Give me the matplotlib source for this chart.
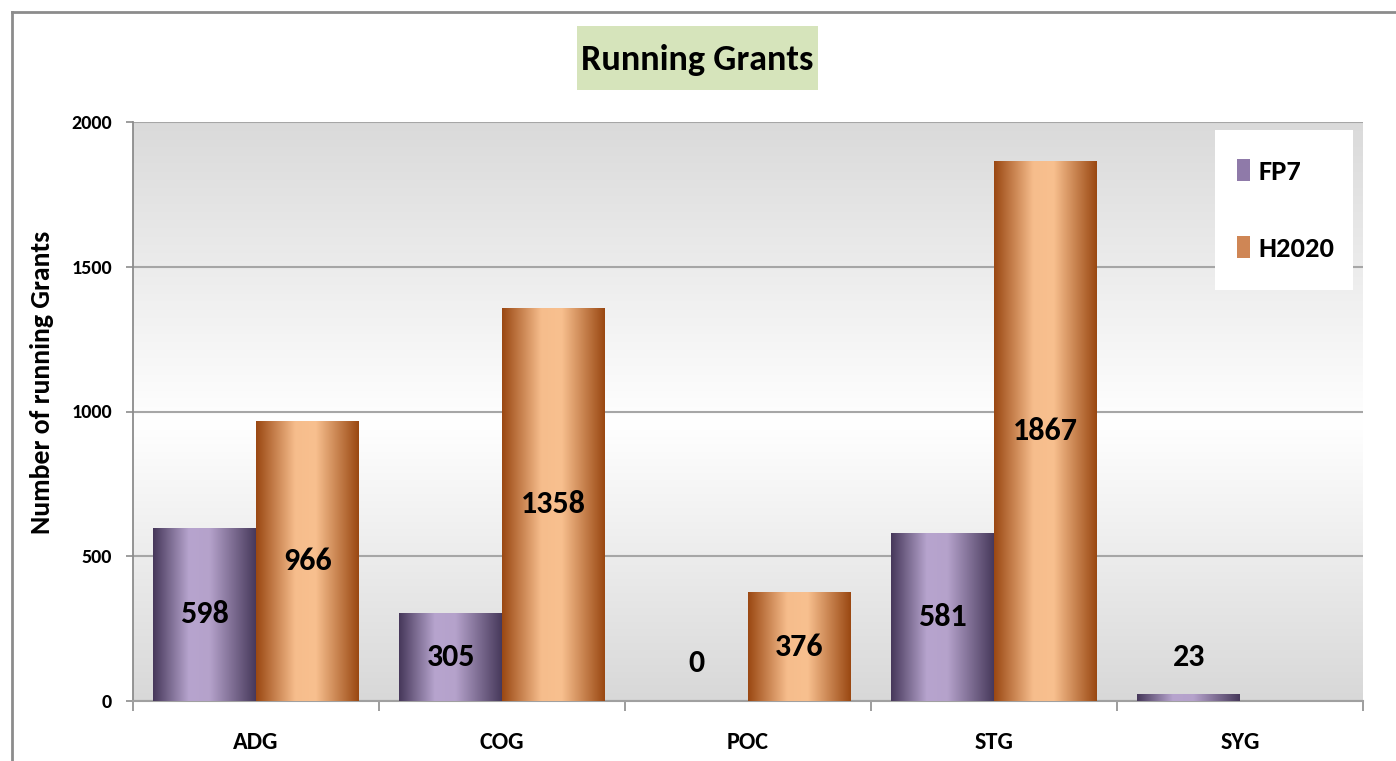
import numpy as np
import matplotlib
matplotlib.use("Agg")
import matplotlib.pyplot as plt
from matplotlib.colors import LinearSegmentedColormap
from matplotlib.patches import Rectangle, Patch
from matplotlib.lines import Line2D

categories = ["ADG", "COG", "POC", "STG", "SYG"]
fp7 = [598, 305, 0, 581, 23]
h2020 = [966, 1358, 376, 1867, np.nan]
series_names = ["FP7", "H2020"]
y_ticks = [0, 500, 1000, 1500, 2000]

FONT = ["Carlito", "DejaVu Sans"]
plt.rcParams["font.family"] = FONT

purple_cmap = LinearSegmentedColormap.from_list(
    "purple", [(0, "#46385a"), (0.35, "#b7a4ce"), (0.55, "#b5a2cb"), (1, "#47395b")])
orange_cmap = LinearSegmentedColormap.from_list(
    "orange", [(0, "#9a4812"), (0.38, "#f6bd8c"), (0.58, "#f8c08f"), (1, "#9a4812")])
bg_cmap = LinearSegmentedColormap.from_list(
    "bg", [(0, "#dadada"), (0.52, "#ffffff"), (1, "#d8d8d8")])

fig = plt.figure(figsize=(13.96, 7.61), dpi=100)
ax = fig.add_axes([133 / 1396, 1 - 701 / 761, 1230 / 1396, 579 / 761])

# plot background gradient (vertical)
grad = np.linspace(0, 1, 256).reshape(-1, 1)
ax.imshow(grad, cmap=bg_cmap, aspect="auto", extent=(0, 1, 0, 1),
          transform=ax.transAxes, zorder=0)

x = np.arange(len(categories))
w = 0.417
bars1 = ax.bar(x - w / 2, fp7, w, facecolor="none", edgecolor="none", zorder=3)
bars2 = ax.bar(x + w / 2, h2020, w, facecolor="none", edgecolor="none", zorder=3)

hgrad = np.linspace(0, 1, 256).reshape(1, -1)
for bars, cmap in [(bars1, purple_cmap), (bars2, orange_cmap)]:
    for p in bars:
        h = p.get_height()
        if not np.isfinite(h) or h <= 0:
            continue
        x0 = p.get_x()
        im = ax.imshow(hgrad, cmap=cmap, aspect="auto",
                       extent=(x0, x0 + p.get_width(), 0, h), zorder=3)
        im.set_clip_path(p)

# value labels
for bars in [bars1, bars2]:
    for p in bars:
        h = p.get_height()
        if not np.isfinite(h):
            continue
        cx = p.get_x() + p.get_width() / 2
        if h >= 100:
            ax.text(cx, h / 2, f"{int(h)}", ha="center", va="center",
                    fontsize=23, fontweight="bold", zorder=5)
        else:
            ax.annotate(f"{int(h)}", (cx, h), xytext=(0, 27), textcoords="offset points",
                        ha="center", va="center", fontsize=23, fontweight="bold", zorder=5)

ax.set_xlim(-0.5, len(categories) - 0.5)
ax.set_ylim(0, 2000)
ax.set_yticks(y_ticks)
ax.set_yticklabels([str(t) for t in y_ticks], fontsize=14.5, fontweight="bold")
ax.yaxis.grid(True, color="#a6a6a6", linewidth=1.5, zorder=1)
ax.set_axisbelow(True)

ax.set_xticks(x)
ax.set_xticklabels(categories, fontsize=17.5, fontweight="bold")
ax.set_xticks(np.arange(len(categories) + 1) - 0.5, minor=True)
ax.tick_params(axis="x", which="major", length=0, pad=22)
ax.tick_params(axis="x", which="minor", length=7, width=1.2, color="#8c8c8c", direction="out")
ax.tick_params(axis="y", length=5, width=1.2, color="#8c8c8c", direction="out", pad=10)

for s in ["top", "right"]:
    ax.spines[s].set_visible(False)
ax.spines["left"].set_color("#8c8c8c")
ax.spines["bottom"].set_color("#a0a0a0")
ax.spines["left"].set_linewidth(1.3)
ax.spines["bottom"].set_linewidth(1.5)

# legend: white box drawn separately, legend itself frameless
ax.add_patch(Rectangle((0.8797, 0.71), 0.1122, 0.276, transform=ax.transAxes,
                       facecolor="white", edgecolor="none", zorder=6))
handles = [Patch(facecolor="#8f7aa9", edgecolor="none"),
           Patch(facecolor="#cf8655", edgecolor="none")]
leg = ax.legend(handles, series_names, loc="center", bbox_to_anchor=(0.9374, 0.848),
                frameon=False, prop={"family": FONT, "weight": "bold", "size": 20.5},
                handlelength=0.45, handleheight=0.8, handletextpad=0.3,
                labelspacing=1.85, borderpad=0, borderaxespad=0)
leg.set_zorder(7)

# y label
fig.text(42 / 1396, 1 - 382 / 761, "Number of running Grants", rotation=90,
         ha="center", va="center", fontsize=20, fontweight="bold")

# title with green box
fig.patches.append(Rectangle((577 / 1396, 1 - 90 / 761), 241 / 1396, 64 / 761,
                             transform=fig.transFigure, facecolor="#d6e4bb",
                             edgecolor="none", zorder=0))
fig.text(697.5 / 1396, 1 - 60 / 761, "Running Grants", ha="center", va="center",
         fontsize=26, fontweight="bold")

# chart area border (top and left edges visible)
fig.add_artist(Line2D([12 / 1396, 12 / 1396], [0, 1 - 12 / 761], transform=fig.transFigure,
                      color="#8c8c8c", linewidth=2))
fig.add_artist(Line2D([12 / 1396, 1], [1 - 12 / 761, 1 - 12 / 761], transform=fig.transFigure,
                      color="#8c8c8c", linewidth=2))

fig.savefig("out.png", dpi=100)
